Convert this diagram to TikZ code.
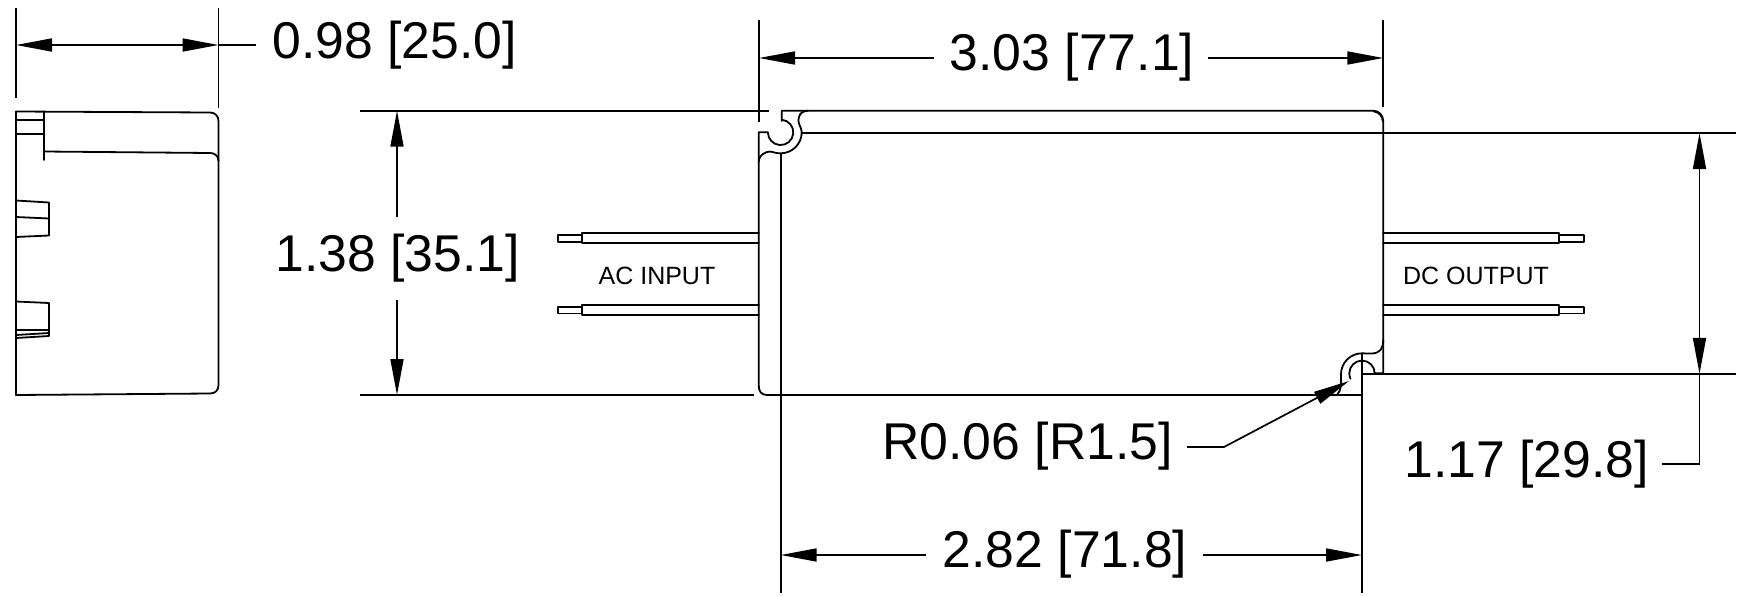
\documentclass[tikz,border=0pt]{standalone}
\usepackage{fontspec}
\setmainfont{Liberation Sans}
\usetikzlibrary{arrows.meta}
\tikzset{
  outline/.style={line width=1.8pt, line join=round, line cap=round},
  dimline/.style={line width=1.7pt},
  dimarrow/.style={line width=1.7pt, -{Triangle[length=36pt,width=13pt]}},
  dimboth/.style={line width=1.7pt, {Triangle[length=36pt,width=13pt]}-{Triangle[length=36pt,width=13pt]}},
  dimlabel/.style={font=\fontsize{51.7}{56}\selectfont, inner sep=0pt},
  wirelabel/.style={font=\fontsize{25}{28}\selectfont, inner sep=0pt}
}
\begin{document}
\begin{tikzpicture}[x=1pt, y=-1pt]
  \useasboundingbox (0,0) rectangle (1743,597);
  % side view
  \draw[outline] (16,111.5) -- (210,112.5) .. controls (215,112.5) and (218.5,116) .. (218.5,121) -- (218.5,385) .. controls (218.5,390.5) and (215,393.5) .. (210,393.5) -- (16,395) -- cycle;
  \draw[outline] (44,111.5) -- (44,160);
  \draw[outline] (16,120) -- (44,120);
  \draw[outline] (16,134) -- (44,134);
  \draw[outline] (44,151.5) -- (210,153) .. controls (215,153) and (218.5,156) .. (218.5,161);
  \draw[outline] (16,200.5) -- (49,202.5) -- (49,235.5) -- (16,237);
  \draw[outline] (16,217) -- (49,218.5);
  \draw[outline] (16,301.5) -- (49,303) -- (49,336) -- (16,338);
  \draw[outline] (16,330) -- (49,330);
  \draw[outline] (16,335) -- (49,333);
  % main body
  \draw[outline] (781.7,121) -- (781.7,110.7) -- (1373,110.7) .. controls (1379,110.7) and (1383.3,115) .. (1383.3,122) -- (1383.3,373.3) -- (1374.7,373.3);
  \draw[outline] (1373.5,111.3) .. controls (1379,112) and (1382.5,116) .. (1382.8,121);
  \draw[outline] (781.7,119.7) arc[start angle=-85, end angle=180, radius=12.7] -- (758.7,132.3) -- (758.7,385) .. controls (758.7,391) and (761,395) .. (767,395) -- (1362,395);
  \draw[outline] (801.7,132.3) arc[start angle=0, end angle=90, radius=21] .. controls (773,153.3) and (772,150.5) .. (767,152) .. controls (761,154) and (758.7,158) .. (758.7,162);
  \draw[outline] (801.7,132.3) .. controls (801,125) and (797,124) .. (799,117) .. controls (800,113) and (803,111) .. (808,110.7);
  % bottom right notch
  \draw[outline] (1383.3,340) .. controls (1383,349) and (1380,353) .. (1372,353.5) .. controls (1369,354) and (1366,353.3) .. (1362,353.3) arc[start angle=-90, end angle=-180, radius=21] .. controls (1341,382) and (1342,390) .. (1337,395);
  \draw[outline] (1349.3,373.3) arc[start angle=180, end angle=360, radius=12.7];
  \draw[outline] (1349.3,373.3) arc[start angle=180, end angle=155, radius=12.7];
  % wires
  \foreach \wirey in {233.3,305} {
    \draw[outline] (759,\wirey) -- (582,\wirey) -- (582,\wirey+9.7) -- (759,\wirey+9.7);
    \draw[outline] (582,\wirey+2) -- (558,\wirey+2) -- (558,\wirey+8.5) -- (582,\wirey+8.5);
    \draw[outline] (1383,\wirey) -- (1559,\wirey) -- (1559,\wirey+9.7) -- (1383,\wirey+9.7);
    \draw[outline] (1559,\wirey+2) -- (1584,\wirey+2) -- (1584,\wirey+8.5) -- (1559,\wirey+8.5);
  }
  \node[wirelabel] (acinput) at (657,276) {AC INPUT};
  \node[wirelabel] (dcoutput) at (1476,276) {DC OUTPUT};
  % extension lines
  \draw[dimline] (16,8) -- (16,98);
  \draw[dimline] (218.5,8) -- (218.5,108);
  \draw[dimline] (759,20) -- (759,122);
  \draw[dimline] (1383.3,20) -- (1383.3,107);
  \draw[dimline] (360,110.7) -- (769,110.7);
  \draw[dimline] (360,395) -- (754,395);
  \draw[dimline] (801.7,133) -- (1736,133);
  \draw[dimline] (1362,373.8) -- (1736,373.8);
  \draw[dimline] (780.7,153) -- (780.7,593);
  \draw[dimline] (1362,353.3) -- (1362,593);
  % dimensions
  \node[dimlabel] (sidewidth) at (394.5,45.5) {0.98 [25.0]};
  \coordinate (sideleft) at (16,45);
  \coordinate (sideright) at (218.5,45);
  \coordinate (sidestub) at (256,45);
  \draw[dimboth] (sideleft) -- (sideright);
  \draw[dimline] (sideright) -- (sidestub);

  \node[dimlabel] (bodywidth) at (1072,57) {3.03 [77.1]};
  \coordinate (bodyleft) at (759,58);
  \coordinate (bodyright) at (1383.3,58);
  \draw[dimarrow] (934,58) -- (bodyleft);
  \draw[dimarrow] (1208,58) -- (bodyright);

  \node[dimlabel] (bodyheight) at (397.7,258) {1.38 [35.1]};
  \coordinate (heighttop) at (397,110.7);
  \coordinate (heightbottom) at (397,395);
  \draw[dimarrow] (397,217) -- (heighttop);
  \draw[dimarrow] (397,300) -- (heightbottom);

  \node[dimlabel] (holewidth) at (1065,554) {2.82 [71.8]};
  \coordinate (holeleft) at (780.7,555);
  \coordinate (holeright) at (1362,555);
  \draw[dimarrow] (926,555) -- (holeleft);
  \draw[dimarrow] (1203,555) -- (holeright);

  \node[dimlabel] (holeheight) at (1526.5,464) {1.17 [29.8]};
  \coordinate (holetop) at (1699.5,133);
  \coordinate (holebottom) at (1699.5,373.8);
  \coordinate (holebend) at (1699.5,464);
  \coordinate (holeend) at (1662,464);
  \draw[dimboth] (holetop) -- (holebottom);
  \draw[dimline, line join=miter] (holeend) -- (holebend) -- (holebottom);

  \node[dimlabel] (holeradius) at (1027.5,446) {R0.06 [R1.5]};
  \coordinate (radiusstart) at (1187,447);
  \coordinate (radiusbend) at (1224,447);
  \coordinate (radiustip) at (1349,381);
  \draw[dimarrow] (radiusstart) -- (radiusbend) -- (radiustip);
\end{tikzpicture}
\end{document}
